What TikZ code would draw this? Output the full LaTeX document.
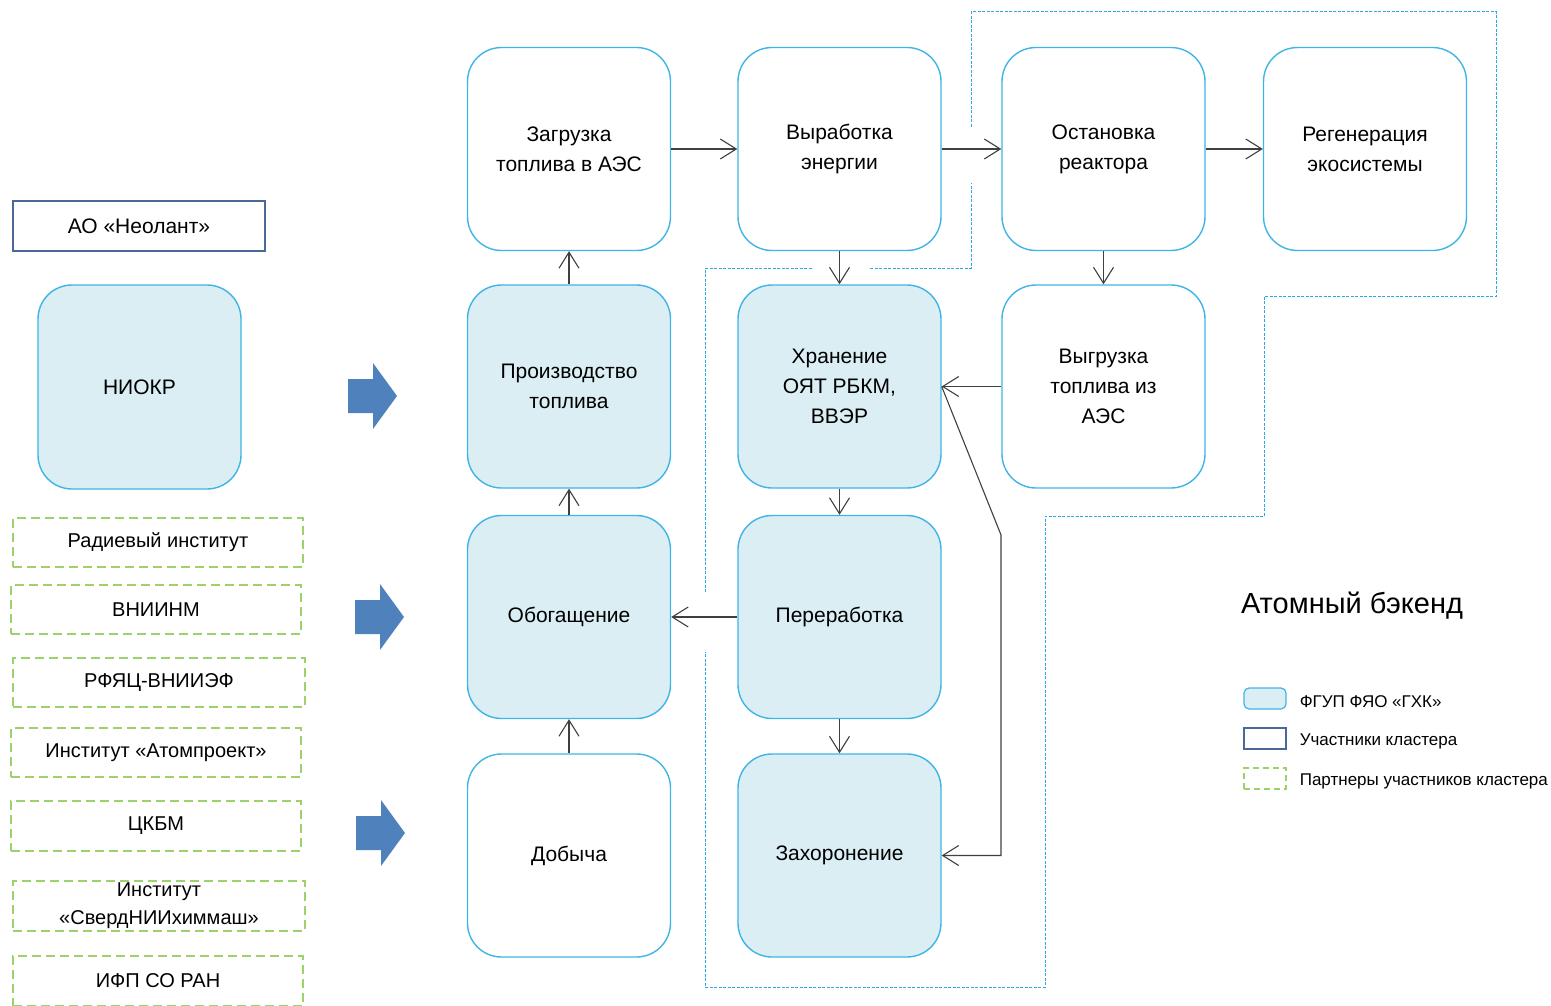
\documentclass[tikz,border=0pt]{standalone}
\usepackage{fontspec}
\setmainfont{Liberation Sans}
\usetikzlibrary{arrows.meta,positioning}

\definecolor{boxline}{HTML}{3FB4E6}
\definecolor{boxfill}{HTML}{DAEEF3}
\definecolor{memberline}{HTML}{4A6898}
\definecolor{partnerline}{HTML}{9BD36A}
\definecolor{arrowblue}{HTML}{4F81BD}
\definecolor{linkgray}{HTML}{404040}
\definecolor{zoneline}{HTML}{2AA8DF}

\begin{document}
\begin{tikzpicture}[x=1pt, y=-1pt,
  stage/.style={draw=boxline, line width=1.4pt, rounded corners=34pt, minimum width=203pt, minimum height=203pt, align=center, font=\fontsize{21}{30}\selectfont},
  gxk/.style={stage, fill=boxfill},
  member/.style={draw=memberline, line width=1.3pt, minimum width=252pt, minimum height=50pt, font=\fontsize{21}{30}\selectfont},
  partner/.style={draw=partnerline, line width=1.2pt, dash pattern=on 9pt off 5pt, minimum width=290pt, minimum height=49pt, inner sep=0pt, align=center, font=\fontsize{20}{28}\selectfont},
  link/.style={draw=linkgray, line width=1.1pt, -{Straight Barb[length=16pt,width=20pt]}},
  zone/.style={draw=zoneline, line width=1pt, dash pattern=on 3pt off 1.5pt},
  keybox/.style={minimum width=42pt, minimum height=21pt, line width=1.2pt},
  keytext/.style={anchor=west, inner sep=0pt, yshift=-3pt, font=\fontsize{17}{20}\selectfont}
]
\useasboundingbox (0,0) rectangle (1551,1006);

% left column
\node[member] (neolant) at (139,226) {АО «Неолант»};
\node[gxk, minimum height=204pt] (niokr) at (139.5,387) {НИОКР};
\node[partner] (radium) at (158,542.5) {Радиевый институт};
\node[partner] (vniinm) at (156,609.5) {ВНИИНМ};
\node[partner, minimum width=292pt] (rfyac) at (159,682.5) {РФЯЦ-ВНИИЭФ};
\node[partner] (atomproekt) at (156,752.5) {Институт «Атомпроект»};
\node[partner, minimum height=50pt] (ckbm) at (156,826) {ЦКБМ};
\node[partner, minimum width=292pt, minimum height=50pt] (sverd) at (159,906) {Институт\\«СвердНИИхиммаш»};
\node[partner, minimum height=50pt] (ifp) at (158,981) {ИФП СО РАН};

% block arrows
\foreach \x/\y in {348/396, 355/617, 356/833}
  \fill[arrowblue] (\x,\y-17) -- (\x+25,\y-17) -- (\x+25,\y-33) -- (\x+49,\y)
    -- (\x+25,\y+33) -- (\x+25,\y+17) -- (\x,\y+17) -- cycle;

% stages
\node[stage] (zagruzka) at (569,149) {Загрузка\\топлива в АЭС};
\node[stage] (vyrabotka) at (839.5,149) {Выработка\\энергии};
\node[stage] (ostanovka) at (1103.5,149) {Остановка\\реактора};
\node[stage] (regen) at (1365,149) {Регенерация\\экосистемы};
\node[gxk] (proizv) at (569,386.5) {Производство\\топлива};
\node[gxk] (hranenie) at (839.5,386.5) {Хранение\\ОЯТ РБКМ,\\ВВЭР};
\node[stage] (vygruzka) at (1103.5,386.5) {Выгрузка\\топлива из\\АЭС};
\node[gxk] (obogash) at (569,617) {Обогащение};
\node[gxk] (pererab) at (839.5,617) {Переработка};
\node[stage] (dobycha) at (569,855.5) {Добыча};
\node[gxk] (zahoron) at (839.5,855.5) {Захоронение};

% links
\draw[link] (zagruzka) -- (vyrabotka);
\draw[link] (vyrabotka) -- (ostanovka);
\draw[link] (ostanovka) -- (regen);
\draw[link] (vyrabotka) -- (hranenie);
\draw[link] (ostanovka) -- (vygruzka);
\draw[link] (proizv) -- (zagruzka);
\draw[link] (obogash) -- (proizv);
\draw[link] (dobycha) -- (obogash);
\draw[link] (vygruzka) -- (hranenie);
\draw[link] (hranenie) -- (pererab);
\draw[link] (pererab) -- (obogash);
\draw[link] (pererab) -- (zahoron);
\coordinate (turn) at (1001,535);
\draw[link] (hranenie.east) -- (turn) -- (turn |- zahoron.east) -- (zahoron.east);

% backend zone
\draw[zone] (971,127) -- (971,12) -- (1496,12) -- (1496,296) -- (1264,296) -- (1264,516)
  -- (1045,516) -- (1045,987) -- (705,987) -- (705,652);
\draw[zone] (705,592) -- (705,268) -- (812,268);
\draw[zone] (870,268) -- (971,268) -- (971,183);

% legend
\node[font=\fontsize{29}{34}\selectfont] (title) at (1352,606) {Атомный бэкенд};
\node[keybox, draw=boxline, fill=boxfill, rounded corners=5pt] (keygxk) at (1265,698.5) {};
\node[keytext, right=13pt of keygxk] (keygxktext) {ФГУП ФЯО «ГХК»};
\node[keybox, draw=memberline] (keymember) at (1265,738.5) {};
\node[keytext, right=13pt of keymember] (keymembertext) {Участники кластера};
\node[keybox, draw=partnerline, dash pattern=on 6pt off 4pt] (keypartner) at (1265,778.5) {};
\node[keytext, right=13pt of keypartner] (keypartnertext) {Партнеры участников кластера};
\end{tikzpicture}
\end{document}
